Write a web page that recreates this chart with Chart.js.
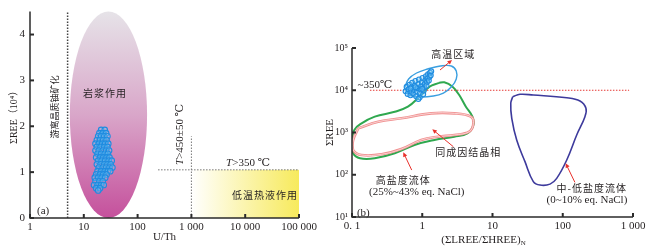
<!DOCTYPE html>
<html>
<head>
<meta charset="utf-8">
<script src="https://cdn.jsdelivr.net/npm/chart.js@4"></script>
<style>
html, body { margin:0; padding:0; background:#fff; }
#wrap { position:relative; width:650px; height:250px; }
canvas { position:absolute; top:0; }
#ca { left:0; }
#cb { left:325px; }
</style>
</head>
<body>
<div id="wrap">
  <canvas id="ca" width="325" height="250"></canvas>
  <canvas id="cb" width="325" height="250"></canvas>
</div>
<script>
// ---- (a) U/Th - ΣREE ----
const uthTicks = [1, 10, 100, 1000, 10000, 100000];
const reeTicksA = [0, 1, 2, 3, 4];
const sampleUTh = [21,24.5, 19.5,22.5,26, 18.5,21,24,27.5, 17.5,20,23,26.5, 16.5,19,22,25,28.5,
  17.5,20.5,24,27.5, 16.5,19,22.5,26,29.5, 18,21,24.5,28, 17,20,23,26.5,30, 18.5,21.5,25,29,33,
  17.5,20.5,24,27.5,31.5, 19,22.5,26,30,34, 18,21,24.5,28,31, 17,20,23,26.5, 16,18.5,21.5,25,
  16.5,19.5,22.5, 15.5,18,21,23.5, 17,20, 18.5];
const sampleREEa = [1.92,1.92, 1.85,1.85,1.85, 1.78,1.78,1.78,1.78, 1.70,1.70,1.70,1.70, 1.62,1.62,1.62,1.62,1.62,
  1.55,1.55,1.55,1.55, 1.47,1.47,1.47,1.47,1.47, 1.40,1.40,1.40,1.40, 1.32,1.32,1.32,1.32,1.32, 1.25,1.25,1.25,1.25,1.25,
  1.17,1.17,1.17,1.17,1.17, 1.10,1.10,1.10,1.10,1.10, 1.02,1.02,1.02,1.02,1.02, 0.95,0.95,0.95,0.95, 0.88,0.88,0.88,0.88,
  0.80,0.80,0.80, 0.72,0.72,0.72,0.72, 0.65,0.65, 0.60];
const magmaUTh = [5.5, 150];      // 岩浆作用 field extent
const magmaREE = [0, 4.5];
const hydroUTh = [1000, 100000];  // 低温热液作用 field
const hydroREE = [0, 1.05];
const freeLineUTh = [5, 5], freeLineREE = [0, 4.5];
const t450UTh = [1000, 1000], t450REE = [0, 1.78];
const t350UTh = [240, 100000], t350REE = [1.05, 1.05];

// ---- (b) (ΣLREE/ΣHREE)N - ΣREE ----
const lhTicks = [0.1, 1, 10, 100, 1000];
const lhTickLabels = ['0. 1', '1', '10', '100', '1 000'];
const reeTicksB = [10, 100, 1000, 10000, 100000];
const reeTickLabelsB = ['10¹', '10²', '10³', '10⁴', '10⁵'];
const sampleLH = [0.58,0.60,0.62,0.64,0.66,0.68,0.70,0.71,0.72,0.75,0.76,0.78,0.80,0.82,0.84,0.86,0.88,0.90,
  0.92,0.93,0.95,0.97,0.99,1.01,1.03,1.05,1.07,1.09,1.11,1.13,1.15,1.17,1.19,1.21,1.24,1.27,1.29,1.32,1.34,
  0.88,0.80,0.68,1.00];
const sampleREEb = [9500,12000,8200,10500,13500,7600,9200,11800,15000,8400,10200,12800,16500,7200,9300,11200,14000,18000,
  6800,8600,10500,12500,15500,19500,8000,9800,11800,14200,17200,21500,12800,15800,19000,24000,17000,21000,26000,22500,28000,
  6200,11800,11000,10800];
const hiTempLH = [0.56,0.64,0.83,1.19,1.81,2.59,3.05,3.05,2.59,2.0,1.44,0.91,0.66,0.56];
const hiTempREE = [11300,18500,25600,31800,37500,37500,28600,18500,11900,8600,7300,6900,7700,11300];
const hiSalLH = [1.7,1.27,0.91,0.625,0.406,0.211,0.137,0.108,0.1,0.104,0.13,0.211,0.406,0.776,1.49,2.86,4.40,5.35,5.18,4.18,3.36,2.70,2.06,1.7];
const hiSalREE = [14800,12100,7000,4080,3100,2370,1650,1150,605,322,245,245,322,506,664,796,957,1510,2370,4080,7700,12100,15400,14800];
const cogenLH = [0.123,0.236,0.504,1.34,2.86,4.92,5.35,4.66,2.86,1.66,0.966,0.504,0.263,0.137,0.104,0.104,0.123];
const cogenREE = [1260,1800,2170,2840,2840,2370,1650,1045,873,796,664,406,305,293,385,664,1260];
const lowSalLH = [19.4,24.6,38.1,114,176,214,207,158,114,82,65.9,47.5,38.1,29,22.1,18.8,18.2,19.4];
const lowSalREE = [7040,8020,7720,6660,5570,3740,2370,873,223,82,60,57,69,204,664,2170,4910,7040];
const isoLH = [0.18, 880], isoREE = [10000, 10000];

const LAT = s => `${s}px "Liberation Serif", "DejaVu Serif", "Noto Sans CJK SC", serif`;
const ZH = s => `${s}px "Noto Sans CJK SC", sans-serif`;
const INK = '#231f20';

const pts = (xs, ys) => xs.map((x, i) => ({ x, y: ys[i] }));
const thousands = v => String(v).replace(/\B(?=(\d{3})+(?!\d))/g, ' ');

function drawRuns(ctx, segs, x, y, rot, align){
    ctx.save();
    ctx.translate(x, y);
    ctx.rotate((rot || 0) * Math.PI / 180);
    ctx.textBaseline = 'middle';
    ctx.textAlign = 'left';
    let w = 0;
    segs.forEach(s => { ctx.font = s.f; ctx.letterSpacing = (s.ls || 0) + 'px'; w += ctx.measureText(s.t).width; });
    let cx = align === 'left' ? 0 : -w / 2;
    segs.forEach(s => {
        ctx.font = s.f; ctx.letterSpacing = (s.ls || 0) + 'px';
        ctx.fillStyle = s.c || INK;
        ctx.fillText(s.t, cx, s.dy || 0);
        cx += ctx.measureText(s.t).width;
    });
    ctx.restore();
}

function arrow(ctx, x0, y0, x1, y1){
    const a = Math.atan2(y1 - y0, x1 - x0), h = 5;
    ctx.beginPath(); ctx.moveTo(x0, y0); ctx.lineTo(x1 - Math.cos(a) * h * 0.7, y1 - Math.sin(a) * h * 0.7); ctx.stroke();
    ctx.beginPath(); ctx.moveTo(x1, y1);
    ctx.lineTo(x1 - h * Math.cos(a - 0.45), y1 - h * Math.sin(a - 0.45));
    ctx.lineTo(x1 - h * Math.cos(a + 0.45), y1 - h * Math.sin(a + 0.45));
    ctx.closePath(); ctx.fill();
}

// axis lines + inward tick marks
const axesPlugin = {
    id: 'axesPlugin',
    afterDraw(chart){
        const { ctx, chartArea: a, scales: { x, y } } = chart;
        ctx.save();
        ctx.strokeStyle = '#2b2b2b';
        ctx.lineWidth = 1.5;
        ctx.beginPath(); ctx.moveTo(a.left, a.top); ctx.lineTo(a.left, a.bottom); ctx.lineTo(a.right, a.bottom); ctx.stroke();
        ctx.lineWidth = 2;
        x.ticks.forEach(t => { const p = x.getPixelForValue(t.value); ctx.beginPath(); ctx.moveTo(p, a.bottom); ctx.lineTo(p, a.bottom - 4); ctx.stroke(); });
        y.ticks.forEach(t => { const p = y.getPixelForValue(t.value); ctx.beginPath(); ctx.moveTo(a.left, p); ctx.lineTo(a.left + 4, p); ctx.stroke(); });
        ctx.restore();
    }
};

function notesPlugin(id, notes, arrows, extra){
    return {
        id,
        afterDatasetsDraw(chart){
            const { ctx, scales: { x, y } } = chart;
            ctx.save();
            ctx.strokeStyle = '#e8312b'; ctx.fillStyle = '#e8312b'; ctx.lineWidth = 1;
            (arrows || []).forEach(r => arrow(ctx, x.getPixelForValue(r.from[0]), y.getPixelForValue(r.from[1]),
                x.getPixelForValue(r.to[0]), y.getPixelForValue(r.to[1])));
            ctx.restore();
            notes.forEach(n => drawRuns(ctx, n.segs, x.getPixelForValue(n.x), y.getPixelForValue(n.y), n.rot, n.align));
            if (extra) extra(chart);
        }
    };
}

// (a) shaded fields
const fieldsA = {
    id: 'fieldsA',
    beforeDatasetsDraw(chart){
        const { ctx, scales: { x, y } } = chart;
        const l = x.getPixelForValue(magmaUTh[0]), r = x.getPixelForValue(magmaUTh[1]);
        const t = y.getPixelForValue(magmaREE[1]), b = y.getPixelForValue(magmaREE[0]);
        ctx.save();
        let g = ctx.createLinearGradient(0, t, 0, b);
        g.addColorStop(0, '#e6e3e8');
        g.addColorStop(0.5, '#d9a6c9');
        g.addColorStop(1, '#c5509c');
        ctx.fillStyle = g;
        ctx.beginPath(); ctx.ellipse((l + r) / 2, (t + b) / 2, (r - l) / 2, (b - t) / 2, 0, 0, Math.PI * 2); ctx.fill();
        const hl = x.getPixelForValue(hydroUTh[0]), hr = x.getPixelForValue(hydroUTh[1]);
        const ht = y.getPixelForValue(hydroREE[1]), hb = y.getPixelForValue(hydroREE[0]);
        g = ctx.createLinearGradient(hl, 0, hr, 0);
        g.addColorStop(0, '#ffffff');
        g.addColorStop(1, '#f7ea5c');
        ctx.fillStyle = g;
        ctx.fillRect(hl, ht, hr - hl, hb - ht);
        ctx.restore();
    }
};

const notesA = [
    { x: 24.8, y: 2.72, segs: [{ t: '岩浆作用', f: ZH(10), ls: 1 }] },
    { x: 2.92, y: 2.42, rot: -90, segs: [{ t: '游离晶质铀矿化', f: ZH(9) }] },
    { x: 614, y: 1.82, rot: -90, segs: [{ t: 'T', f: 'italic ' + LAT(11) }, { t: '>450±50 ℃', f: LAT(11) }] },
    { x: 11270, y: 1.19, segs: [{ t: 'T', f: 'italic ' + LAT(11) }, { t: '>350 ℃', f: LAT(11) }] },
    { x: 23300, y: 0.49, segs: [{ t: '低温热液作用', f: ZH(10), ls: 1 }] },
    { x: 1.75, y: 0.14, segs: [{ t: '(a)', f: LAT(11) }] }
];

const notesB = [
    { x: 0.12, y: 13300, align: 'left', segs: [{ t: '~350℃', f: LAT(11) }] },
    { x: 2.77, y: 72100, segs: [{ t: '高温区域', f: ZH(10), ls: 1 }] },
    { x: 4.53, y: 333, segs: [{ t: '同成因结晶相', f: ZH(10), ls: 1 }] },
    { x: 0.537, y: 75, segs: [{ t: '高盐度流体', f: ZH(10), ls: 1 }] },
    { x: 0.834, y: 39.7, segs: [{ t: '(25%~43% eq. NaCl)', f: LAT(11) }] },
    { x: 258, y: 48, segs: [{ t: '中-低盐度流体', f: ZH(10), ls: 1 }] },
    { x: 221, y: 25, segs: [{ t: '(0~10% eq. NaCl)', f: LAT(11) }] },
    { x: 0.145, y: 12.2, segs: [{ t: '(b)', f: LAT(11) }] }
];
const arrowsB = [
    { from: [1.79, 30100], to: [2.65, 52000] },
    { from: [2.77, 461], to: [1.39, 1190] },
    { from: [0.708, 129], to: [0.537, 340] },
    { from: [149, 66], to: [110, 187] }
];

const baseOpts = {
    responsive: false, animation: false, devicePixelRatio: 1,
    plugins: { legend: { display: false }, tooltip: { enabled: false } }
};
const noGrid = { display: false, drawTicks: false };

new Chart(document.getElementById('ca'), {
    type: 'scatter',
    data: { datasets: [
        { data: pts(sampleUTh, sampleREEa), pointRadius: 2.8, pointBackgroundColor: 'rgba(120,200,245,0.35)', pointBorderColor: '#1f8ce0', pointBorderWidth: 1.1 },
        { data: pts(freeLineUTh, freeLineREE), showLine: true, pointRadius: 0, borderColor: '#444', borderWidth: 1.5, borderDash: [1.5, 1.5] },
        { data: pts(t450UTh, t450REE), showLine: true, pointRadius: 0, borderColor: '#777', borderWidth: 1, borderDash: [1.5, 1.5] },
        { data: pts(t350UTh, t350REE), showLine: true, pointRadius: 0, borderColor: '#777', borderWidth: 1, borderDash: [1.5, 1.5] }
    ]},
    options: {
        ...baseOpts,
        layout: { padding: { left: 0, right: 26, top: 8, bottom: 0 } },
        scales: {
            x: {
                type: 'logarithmic', min: 1, max: 100000,
                afterBuildTicks: s => { s.ticks = uthTicks.map(v => ({ value: v })); },
                afterFit: s => { s.height = 32; },
                ticks: { callback: v => thousands(v), font: { family: '"Liberation Serif", serif', size: 11 }, color: INK, padding: 3, maxRotation: 0, autoSkip: false },
                grid: noGrid, border: { display: false },
                title: { display: true, text: 'U/Th', color: INK, font: { family: '"Liberation Serif", serif', size: 11 }, padding: { top: 0, bottom: 6 } }
            },
            y: {
                min: 0, max: 4.5,
                afterBuildTicks: s => { s.ticks = reeTicksA.map(v => ({ value: v })); },
                afterFit: s => { s.width = 30; },
                ticks: { font: { family: '"Liberation Serif", serif', size: 11 }, color: INK, padding: 5 },
                grid: noGrid, border: { display: false },
                title: { display: true, text: 'ΣREE（10⁴）', color: INK, font: { family: '"Liberation Serif", "Noto Sans CJK SC", serif', size: 10 }, padding: { top: 8, bottom: 0 } }
            }
        }
    },
    plugins: [fieldsA, axesPlugin, notesPlugin('notesA', notesA)]
});

const closed = (xs, ys, color, width) => ({ data: pts(xs, ys), showLine: true, pointRadius: 0, borderColor: color, borderWidth: width, tension: 0.4, fill: false });

new Chart(document.getElementById('cb'), {
    type: 'scatter',
    data: { datasets: [
        { data: pts(sampleLH, sampleREEb), pointRadius: 2.5, pointBackgroundColor: 'rgba(120,200,245,0.4)', pointBorderColor: '#1f8ce0', pointBorderWidth: 1.1 },
        closed(hiTempLH, hiTempREE, '#3a9fe0', 1.4),
        { data: pts(isoLH, isoREE), showLine: true, pointRadius: 0, borderColor: '#e53935', borderWidth: 1.2, borderDash: [1.5, 1.5] },
        closed(cogenLH, cogenREE, '#fbe3e3', 0.8),
        closed(cogenLH, cogenREE, '#f08f8f', 2.6),
        closed(hiSalLH, hiSalREE, '#2fa84f', 2),
        closed(lowSalLH, lowSalREE, '#3d3a9c', 1.6)
    ]},
    options: {
        ...baseOpts,
        layout: { padding: { left: 0, right: 17, top: 48, bottom: 0 } },
        scales: {
            x: {
                type: 'logarithmic', min: 0.1, max: 1000,
                afterBuildTicks: s => { s.ticks = lhTicks.map(v => ({ value: v })); },
                afterFit: s => { s.height = 33; },
                ticks: { callback: (v, i) => lhTickLabels[i], font: { family: '"Liberation Serif", serif', size: 11 }, color: INK, padding: 3, maxRotation: 0, autoSkip: false },
                grid: noGrid, border: { display: false }
            },
            y: {
                type: 'logarithmic', min: 10, max: 100000,
                afterBuildTicks: s => { s.ticks = reeTicksB.map(v => ({ value: v })); },
                afterFit: s => { s.width = 27; },
                ticks: { callback: (v, i) => reeTickLabelsB[i], font: { family: '"Liberation Serif", "DejaVu Serif", serif', size: 10 }, color: INK, padding: 4 },
                grid: noGrid, border: { display: false },
                title: { display: true, text: 'ΣREE', color: INK, font: { family: '"Liberation Serif", serif', size: 11, lineHeight: 1 }, padding: { top: 0, bottom: 0 } }
            }
        }
    },
    plugins: [axesPlugin, notesPlugin('notesB', notesB, arrowsB, chart => {
        const a = chart.chartArea;
        drawRuns(chart.ctx, [{ t: '(ΣLREE/ΣHREE)', f: LAT(11) }, { t: 'N', f: LAT(7), dy: 3 }], (a.left + a.right) / 2 - 9, 240);
    })]
});
</script>
</body>
</html>
